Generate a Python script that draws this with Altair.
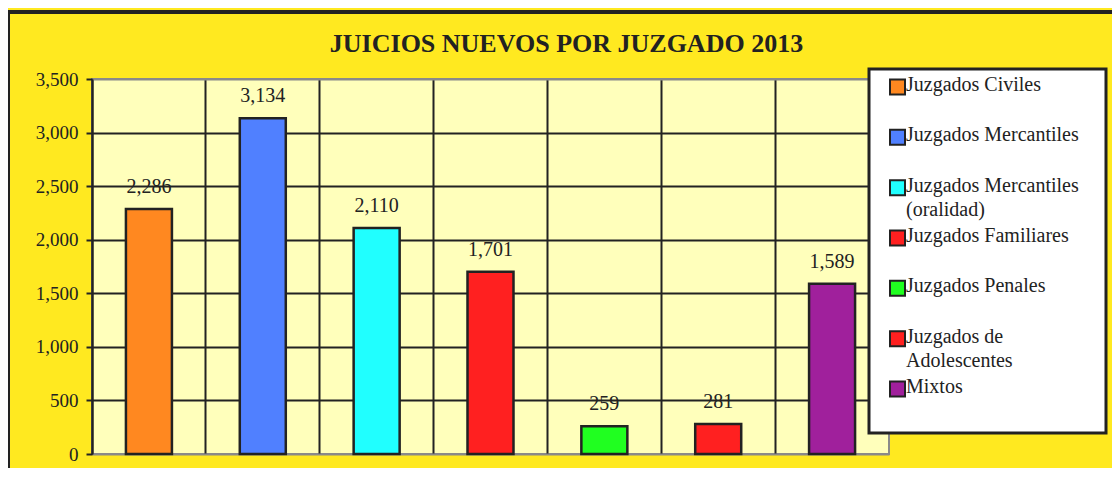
import altair as alt
import pandas as pd

# ---- data ----
categories = [
    "Juzgados Civiles",
    "Juzgados Mercantiles",
    "Juzgados Mercantiles|(oralidad)",
    "Juzgados Familiares",
    "Juzgados Penales",
    "Juzgados de|Adolescentes",
    "Mixtos",
]
values = [2286, 3134, 2110, 1701, 259, 281, 1589]
colors = ["#FF8820", "#5080FF", "#20FFFF", "#FF2020", "#20FF20", "#FF2020", "#A0209C"]
y_ticks = [0, 500, 1000, 1500, 2000, 2500, 3000, 3500]
chart_title = "JUICIOS NUEVOS POR JUZGADO 2013"

df = pd.DataFrame({"juzgado": categories, "juicios": values})
leg_df = pd.DataFrame({"juzgado": categories})
one_row = pd.DataFrame({"k": [0]})

SERIF = "Liberation Serif"
INK = "#222222"

color_scale = alt.Scale(domain=categories, range=colors)

x_enc = alt.X(
    "juzgado:N",
    sort=categories,
    scale=alt.Scale(paddingInner=0, paddingOuter=0),
    axis=alt.Axis(
        labels=False, ticks=False, domain=False, title=None,
        grid=True, bandPosition=0, gridColor=INK, gridWidth=2,
    ),
)
y_enc = alt.Y(
    "juicios:Q",
    scale=alt.Scale(domain=[0, 3500], nice=False),
    axis=alt.Axis(
        values=y_ticks, format=",d", title=None,
        grid=True, gridWidth=2,
        gridColor={"condition": {"test": "datum.value == 0 || datum.value == 3500",
                                 "value": "#8a8a8a"}, "value": INK},
        domain=True, domainColor=INK, domainWidth=2,
        ticks=True, tickColor=INK, tickSize=6, tickWidth=2,
        labelFont=SERIF, labelFontSize=19, labelColor=INK, labelPadding=8,
    ),
)

base = alt.Chart(df)

bars = base.mark_bar(width=alt.RelativeBandSize(0.404), stroke=INK, strokeWidth=2.5).encode(
    x=x_enc,
    y=y_enc,
    color=alt.Color("juzgado:N", scale=color_scale, legend=None),
)

labels = base.mark_text(dy=-22, font=SERIF, fontSize=20, color=INK, baseline="middle").encode(
    x=x_enc,
    y=y_enc,
    text=alt.Text("juicios:Q", format=","),
)

main = alt.layer(bars, labels)

# ---- legend drawn as its own layer ----
leg_y = alt.Y(
    "juzgado:N",
    sort=categories,
    scale=alt.Scale(type="point", domain=categories, range=[8, 310], padding=0),
    axis=None,
)
leg_box = alt.Chart(one_row).mark_rect(fill="white", stroke=INK, strokeWidth=3).encode(
    x=alt.value(777), x2=alt.value(1014), y=alt.value(-10), y2=alt.value(354)
)
leg_sym = alt.Chart(leg_df).mark_square(size=225, stroke=INK, strokeWidth=2, opacity=1).encode(
    x=alt.value(805.5),
    y=leg_y,
    color=alt.Color("juzgado:N", scale=color_scale, legend=None),
)
leg_txt = alt.Chart(leg_df).mark_text(
    align="left", baseline="top", dy=-12, lineBreak="|", lineHeight=24,
    font=SERIF, fontSize=20, color=INK,
).encode(x=alt.value(814), y=leg_y, text="juzgado:N")

legend = alt.layer(leg_box, leg_sym, leg_txt)

# ---- outer frame ----
frame_top = alt.Chart(one_row).mark_rule(color=INK, strokeWidth=4).encode(
    x=alt.value(-86), x2=alt.value(1040), y=alt.value(-67)
)
frame_left = alt.Chart(one_row).mark_rule(color=INK, strokeWidth=4).encode(
    x=alt.value(-84), y=alt.value(-69), y2=alt.value(420)
)

chart = (
    alt.layer(main, legend, frame_top, frame_left)
    .resolve_scale(y="independent")
    .properties(
        width=797,
        height=375,
        autosize=alt.AutoSizeParams(type="none"),
        padding={"left": 84, "top": 71, "right": 223, "bottom": 14},
        title=alt.TitleParams(
            text=chart_title, font=SERIF, fontSize=26, fontWeight="bold",
            color=INK, anchor="middle", frame="group", dx=76, offset=-70,
            baseline="alphabetic",
        ),
    )
    .configure(background="#FFE920")
    .configure_view(fill="#FFFFBB", stroke="#8a8a8a", strokeWidth=2)
)

chart.save("out.html", embed_options={"renderer": "svg", "actions": False})
